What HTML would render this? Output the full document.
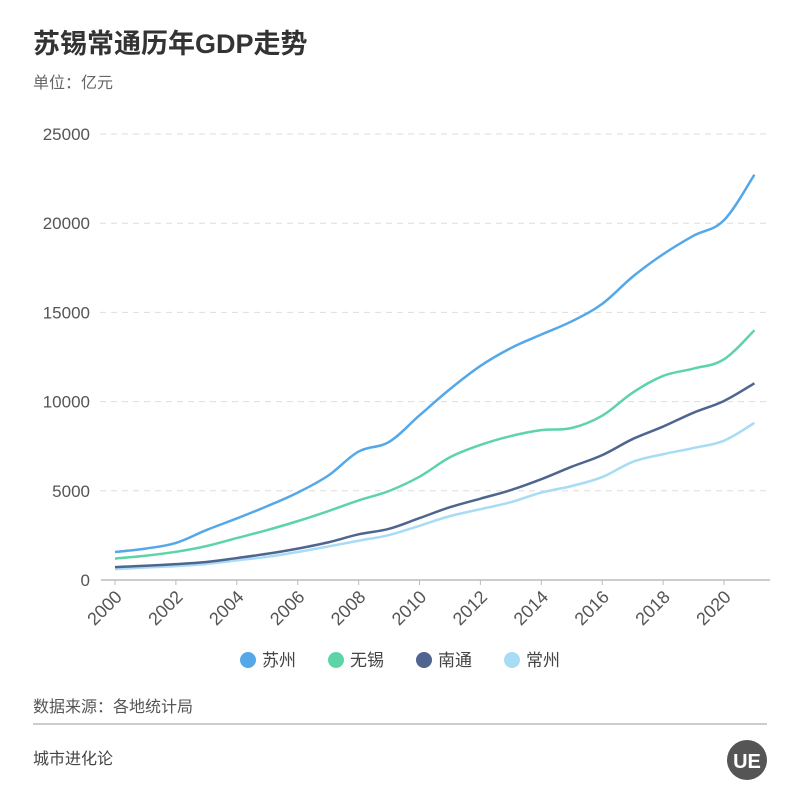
<!DOCTYPE html>
<html><head><meta charset="utf-8"><style>
body{margin:0;background:#fff;width:800px;height:800px;overflow:hidden;font-family:"Liberation Sans","Noto Sans CJK SC",sans-serif;}
</style></head><body>
<svg id="c" width="800" height="800" xmlns="http://www.w3.org/2000/svg">
<text x="33" y="53" font-size="27" font-weight="bold" fill="#333" font-family="Liberation Sans,Noto Sans CJK SC,sans-serif">苏锡常通历年GDP走势</text>
<text x="33" y="88" font-size="16" fill="#666" font-family="Liberation Sans,Noto Sans CJK SC,sans-serif">单位：亿元</text>
<g id="grid"></g><g id="axes"></g><g id="lines"></g><g id="legend"></g>
<text x="33" y="712" font-size="16" fill="#555" font-family="Liberation Sans,Noto Sans CJK SC,sans-serif">数据来源：各地统计局</text>
<line x1="33" y1="724" x2="767" y2="724" stroke="#bbb" stroke-width="1.5"/>
<text x="33" y="764" font-size="16" fill="#444" font-family="Liberation Sans,Noto Sans CJK SC,sans-serif">城市进化论</text>
<circle cx="747" cy="760" r="20" fill="#555"/>
<text x="747" y="768" font-size="20" font-weight="bold" fill="#fff" text-anchor="middle">UE</text>
</svg>
<script>
const years=[2000,2001,2002,2003,2004,2005,2006,2007,2008,2009,2010,2011,2012,2013,2014,2015,2016,2017,2018,2019,2020,2021];
const suzhou=[1570,1760,2080,2800,3450,4140,4900,5850,7200,7740,9230,10700,12000,13000,13760,14500,15480,17000,18260,19300,20170,22720];
const wuxi=[1200,1360,1580,1900,2350,2800,3300,3860,4460,4990,5790,6880,7570,8070,8400,8520,9210,10500,11440,11850,12370,14000];
const nantong=[720,800,890,1010,1230,1470,1760,2110,2560,2870,3470,4080,4560,5040,5650,6350,7000,7900,8600,9380,10036,11027];
const changzhou=[610,700,780,900,1100,1300,1570,1880,2200,2520,3040,3580,3970,4360,4900,5270,5770,6620,7050,7400,7810,8808];
const yTicks=[0,5000,10000,15000,20000,25000];
const xTickLabels=[2000,2002,2004,2006,2008,2010,2012,2014,2016,2018,2020];
const seriesNames=["苏州","无锡","南通","常州"];
const colors=["#55a8e8","#5dd4a8","#4f6590","#a8dcf5"];
const NS="http://www.w3.org/2000/svg";
const X=y=>115+(y-2000)*30.45;
const Y=v=>580-v*446/25000;
function mk(t,a,p){const e=document.createElementNS(NS,t);for(const k in a)e.setAttribute(k,a[k]);p.appendChild(e);return e;}
const grid=document.getElementById('grid'),axes=document.getElementById('axes'),lines=document.getElementById('lines'),legend=document.getElementById('legend');
yTicks.forEach(v=>{
 if(v>0){const g=mk('line',{x1:100,x2:770,y1:Y(v),y2:Y(v),stroke:'#ddd','stroke-dasharray':'6,5'},grid);
 
 }
 const t=mk('text',{x:90,y:Y(v)+6,'text-anchor':'end','font-size':17,fill:'#555'},axes);t.textContent=v;
 
 
});
const ax=mk('line',{x1:101,x2:770,y1:580,y2:580,stroke:'#bbb','stroke-width':1.5},axes);


xTickLabels.forEach(yr=>{
 mk('line',{x1:X(yr),x2:X(yr),y1:580,y2:585,stroke:'#bbb'},axes);
 const t=mk('text',{x:X(yr)+8,y:598,'text-anchor':'end','font-size':18,fill:'#555',transform:`rotate(-45 ${X(yr)+8} 598)`},axes);t.textContent=yr;
 
 
});
function path(vals){const p=vals.map((v,i)=>[X(years[i]),Y(v)]);let d=`M${p[0][0]},${p[0][1]}`;
 for(let i=0;i<p.length-1;i++){const p0=p[i-1]||p[i],p1=p[i],p2=p[i+1],p3=p[i+2]||p2;const k=0.18;
  d+=` C${p1[0]+(p2[0]-p0[0])*k},${p1[1]+(p2[1]-p0[1])*k} ${p2[0]-(p3[0]-p1[0])*k},${p2[1]-(p3[1]-p1[1])*k} ${p2[0]},${p2[1]}`;}
 return d;}
const data=[suzhou,wuxi,nantong,changzhou];
[3,2,1,0].forEach(i=>{const l=mk('path',{d:path(data[i]),fill:'none',stroke:colors[i],'stroke-width':2.5},lines);
 
 });
seriesNames.forEach((n,i)=>{const cx=248+i*88;
 const c=mk('circle',{cx:cx,cy:660,r:8,fill:colors[i]},legend);
 
 
 const t=mk('text',{x:cx+14,y:666,'font-size':17,fill:'#444'},legend);t.textContent=n;
 
 });
</script>
</body></html>
